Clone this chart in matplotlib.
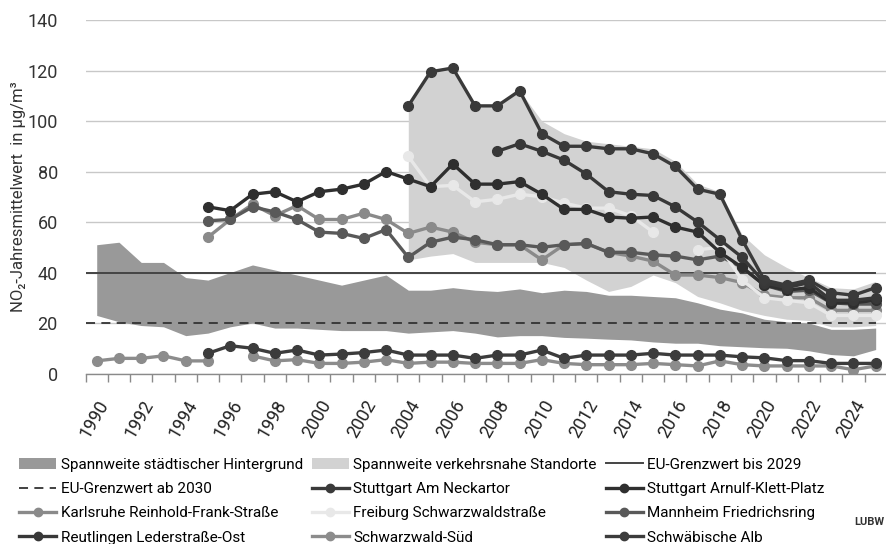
import numpy as np
import matplotlib
matplotlib.use("Agg")
import matplotlib.pyplot as plt
from matplotlib.patches import Patch
from matplotlib.lines import Line2D

plt.rcParams['font.family'] = ['Roboto', 'DejaVu Sans']

# --- Daten (NO2-Jahresmittelwerte in µg/m³)
jahre = list(range(1990, 2026))
nan = np.nan

hintergrund_max = [51, 52, 44, 44, 38, 37, 40, 43, 41, 39, 37, 35, 37, 39, 33, 33, 34, 33,
                   32.5, 33.5, 32, 33, 32.5, 31, 31, 30.5, 30, 28, 25.5, 24, 21.5, 20.5, 20,
                   17.5, 17.5, 18]
hintergrund_min = [23, 20.5, 19, 18.5, 15, 16, 18.5, 20, 18, 18, 17.5, 17, 17, 17, 16, 16.5,
                   17, 16, 14.5, 15, 15, 14.3, 14, 13.6, 13.3, 12.5, 12, 12, 11, 10.6, 10.2,
                   10, 9, 7.5, 7, 9.5]

# verkehrsnahe Standorte ab 2004
verkehr_max = [106, 119, 121, 106, 106, 112, 100, 95, 92, 91, 90, 89, 84, 75, 72, 55, 47,
               42, 38, 34, 33.5, 36.5]
verkehr_min = [45, 46.5, 47.5, 44, 44, 44, 44, 42, 37, 32.5, 34.5, 39, 36, 30.5, 28, 25, 23,
               21.5, 21, 18.5, 18.5, 19]

eu_grenzwert_bis_2029 = 40
eu_grenzwert_ab_2030 = 20

neckartor = [106, 119.5, 121, 106, 106, 112, 95, 90, 90, 89, 89, 87, 82, 73, 71, 53, 37, 35,
             37, 32, 31, 34]                                              # ab 2004
arnulf_klett = [66, 64.5, 71, 72, 68, 72, 73, 75, 80, 77, 74, 83, 75, 75, 76, 71, 65, 65, 62,
                61.5, 62, 58, 56, 48, 42, 35, 33, 34, 28, 28, 29]         # ab 1995
karlsruhe = [54, 61, 67, 62.5, 66.5, 61, 61, 63.5, 61, 55.5, 58, 56, 52, 51, 51, 45, 51, 51.5,
             48, 46.5, 44.5, 39, 39, 38, 36, 31, 30, 30, 25, 25, 25]     # ab 1995
freiburg = [86, 74, 74.5, 68, 69, 71, 70, 67.5, 65.5, 65.5, 62.5, 56, nan, 49, 50, 37, 30,
            29, 28, 23, 23, 23]                                           # ab 2004
mannheim = [60.5, 61, 66, 64, 61, 56, 55.5, 53.5, 57, 46, 52, 54, 53, 51, 51, 50, 51, 51.5,
            48, 48, 47, 46.5, 45, 46.5, 42, 35, 32.5, 33, 28, 27.5, 27.5]  # ab 1995
reutlingen = [88, 91, 88, 84.5, 79, 72, 71, 70.5, 66, 60, 53, 46, 36, 34, 36, 29, 29, 30]  # ab 2008
schwarzwald_sued = [5, 6, 6, 7, 5, 5, nan, 7, 5, 5.5, 4, 4, 4.5, 5.5, 4, 4.5, 4.5, 4, 4, 4,
                    5.5, 4, 3.5, 3.5, 3.5, 4, 3.5, 3, 5, 3.5, 3, 3, 3, 3, 1.5, 3]  # ab 1990
schwaebische_alb = [8, 11, 10, 8, 9.3, 7.3, 7.7, 8.3, 9.3, 7.3, 7.3, 7.3, 6, 7.3, 7.3, 9.3, 6,
                    7.3, 7.3, 7.3, 8, 7.3, 7.3, 7.3, 6.6, 6.2, 5.1, 5.1, 4, 4, 4]  # ab 1995


def auffuellen(startjahr, werte):
    # fehlende Jahre vor dem Messbeginn mit NaN auffüllen
    return np.array([nan] * (startjahr - jahre[0]) + list(werte), dtype=float)


x = np.arange(len(jahre))
i04 = jahre.index(2004)

stationen = [
    ('Stuttgart Am Neckartor', auffuellen(2004, neckartor), '#3a3a3a', 8),
    ('Stuttgart Arnulf-Klett-Platz', auffuellen(1995, arnulf_klett), '#2f2f2f', 7),
    ('Karlsruhe Reinhold-Frank-Straße', auffuellen(1995, karlsruhe), '#8a8a8a', 5),
    ('Freiburg Schwarzwaldstraße', auffuellen(2004, freiburg), '#e8e8e8', 6),
    ('Mannheim Friedrichsring', auffuellen(1995, mannheim), '#595959', 5.5),
    ('Reutlingen Lederstraße-Ost', auffuellen(2008, reutlingen), '#383838', 7.5),
    ('Schwarzwald-Süd', auffuellen(1990, schwarzwald_sued), '#8c8c8c', 5),
    ('Schwäbische Alb', auffuellen(1995, schwaebische_alb), '#3c3c3c', 5.5),
]

fig = plt.figure(figsize=(8.86, 5.44), dpi=100)
ax = fig.add_axes([0.0966, 0.3134, 0.9043, 0.6498])

farbe_hg = '#999999'
farbe_vk = '#d2d2d2'
ax.fill_between(x, hintergrund_min, hintergrund_max, color=farbe_hg, lw=0, zorder=1)
ax.fill_between(x[i04:], verkehr_min, verkehr_max, color=farbe_vk, lw=0, zorder=1.5)

ax.hlines(eu_grenzwert_bis_2029, -0.5, len(jahre) - 1, color='#444444', lw=1.4, zorder=2)
ax.hlines(eu_grenzwert_ab_2030, -0.5, len(jahre) - 1, color='#333333', lw=1.3,
          linestyles=(0, (5, 3.5)), zorder=2)

for name, werte, farbe, z in stationen:
    ax.plot(x, werte, '-o', color=farbe, lw=2.4, ms=7, zorder=z)

ax.set_xlim(-0.5, len(jahre) - 0.5)
ax.set_ylim(0, 140)
ax.set_yticks(range(0, 141, 20))
ax.yaxis.grid(True, color='#c8c8c8', lw=1)
ax.set_axisbelow(True)

for s in ['top', 'right', 'left']:
    ax.spines[s].set_visible(False)
ax.spines['bottom'].set_color('#8a8a8a')
ax.spines['bottom'].set_linewidth(1)

ax.set_xticks(x[::2])
ax.set_xticklabels([str(j) for j in jahre[::2]], rotation=60, ha='right',
                   rotation_mode='anchor', fontsize=13, color='#222222')
ax.set_xticks(np.arange(-0.5, len(jahre), 1), minor=True)
ax.tick_params(axis='x', which='major', length=0, pad=17)
ax.tick_params(axis='x', which='minor', length=6, color='#8a8a8a', width=1)
ax.tick_params(axis='y', length=0, pad=20, labelsize=13, labelcolor='#333333')

ax.set_ylabel('NO₂-Jahresmittelwert  in µg/m³', fontsize=12, color='#333333')
ax.yaxis.set_label_coords(-0.074, 0.5)

# --- Legende (zeilenweise wie im Original)
handles = [
    Patch(facecolor=farbe_hg, edgecolor='none', label='Spannweite städtischer Hintergrund'),
    Patch(facecolor=farbe_vk, edgecolor='none', label='Spannweite verkehrsnahe Standorte'),
    Line2D([], [], color='#444444', lw=1.4, label='EU-Grenzwert bis 2029'),
    Line2D([], [], color='#333333', lw=1.3, ls=(0, (5, 3.5)), label='EU-Grenzwert ab 2030'),
]
for name, werte, farbe, z in stationen:
    handles.append(Line2D([], [], color=farbe, lw=2.4, marker='o', ms=6, label=name))

ncol = 3
handles = [handles[i] for c in range(ncol) for i in range(c, len(handles), ncol)]

fig.legend(handles=handles, ncol=ncol, loc='upper left', bbox_to_anchor=(0.015, 0.17),
           frameon=False, prop={'size': 11},
           handlelength=2.4, handletextpad=0.3, columnspacing=0.6, labelspacing=0.68,
           borderaxespad=0)

fig.text(0.998, 0.04, 'LUBW', fontsize=8, fontweight='bold', color='#333333',
         ha='right', va='center')

fig.savefig('out.png', dpi=100)
